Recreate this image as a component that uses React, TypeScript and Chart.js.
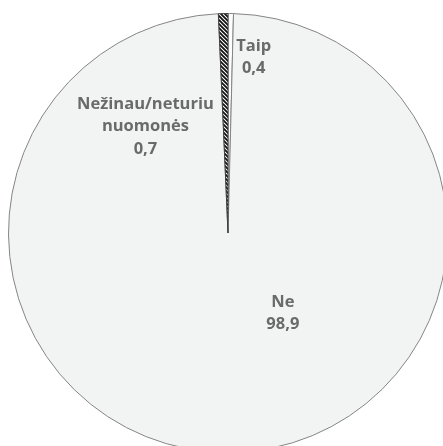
import React, { useEffect, useRef } from "react";
import { Chart, registerables } from "chart.js";

Chart.register(...registerables);

const categories = ["Taip", "Ne", "Nežinau/neturiu\nnuomonės"];
const values = [0.4, 98.9, 0.7];
// label anchor (fraction of radius, relative to centre)
const labelAnchors: [number, number][] = [
  [0.117, -0.8],
  [0.25, 0.365],
  [-0.376, -0.485],
];
const FONT = "bold 16.5px 'Open Sans'";

function makeHatch(): CanvasPattern | string {
  const c = document.createElement("canvas");
  const s = 4;
  c.width = s;
  c.height = s;
  const ctx = c.getContext("2d");
  if (!ctx) return "#555";
  ctx.fillStyle = "#ffffff";
  ctx.fillRect(0, 0, s, s);
  ctx.strokeStyle = "#111111";
  ctx.lineWidth = 1.8;
  ctx.beginPath();
  ctx.moveTo(-1, -1);
  ctx.lineTo(s + 1, s + 1);
  ctx.moveTo(-1, s - 1);
  ctx.lineTo(1, s + 1);
  ctx.moveTo(s - 1, -1);
  ctx.lineTo(s + 1, 1);
  ctx.stroke();
  const p = ctx.createPattern(c, "repeat");
  return p || "#555";
}

const labelPlugin = {
  id: "pieLabels",
  afterDatasetsDraw(chart: any) {
    const ctx = chart.ctx;
    const meta = chart.getDatasetMeta(0);
    ctx.save();
    ctx.fillStyle = "#6a6a6a";
    ctx.font = FONT + ", Lato, sans-serif";
    ctx.textAlign = "center";
    ctx.textBaseline = "middle";
    meta.data.forEach((arc: any, i: number) => {
      const r = arc.outerRadius;
      const cx = arc.x + labelAnchors[i][0] * r;
      const cy = arc.y + labelAnchors[i][1] * r;
      const lines = categories[i].split("\n");
      lines.push(values[i].toFixed(1).replace(".", ","));
      const lh = 22.5;
      const top = cy - ((lines.length - 1) * lh) / 2;
      lines.forEach((t, k) => ctx.fillText(t, cx, top + k * lh));
    });
    ctx.restore();
  },
};

export default function App() {
  const ref = useRef<HTMLCanvasElement>(null);
  useEffect(() => {
    if (!ref.current) return;
    let chart: Chart | null = null;
    let cancelled = false;
    const build = () => {
      if (cancelled || !ref.current) return;
      const hatch = makeHatch();
      chart = new Chart(ref.current, {
        type: "pie",
        data: {
          labels: categories,
          datasets: [
            {
              data: values,
              backgroundColor: ["#ffffff", "#f2f3f3", hatch as any],
              borderColor: ["#7f7f7f", "#858585", "#404040"],
              borderWidth: 1,
            },
          ],
        },
        options: {
          responsive: false,
          animation: false,
          layout: { padding: 0 },
          plugins: {
            legend: { display: false },
            tooltip: { enabled: false },
          },
        },
        plugins: [labelPlugin],
      });
    };
    const fonts: any = (document as any).fonts;
    if (fonts && fonts.load) {
      fonts.load(FONT, "Nežinau0,9").then(build, build);
    } else {
      build();
    }
    return () => {
      cancelled = true;
      if (chart) chart.destroy();
    };
  }, []);
  return (
    <div
      style={{
        position: "fixed",
        left: 0,
        top: 0,
        width: 443,
        height: 446,
        overflow: "hidden",
        background: "#ffffff",
      }}
    >
      <canvas
        ref={ref}
        width={440}
        height={440}
        style={{ position: "absolute", left: 8, top: 13, width: 440, height: 440 }}
      />
    </div>
  );
}
